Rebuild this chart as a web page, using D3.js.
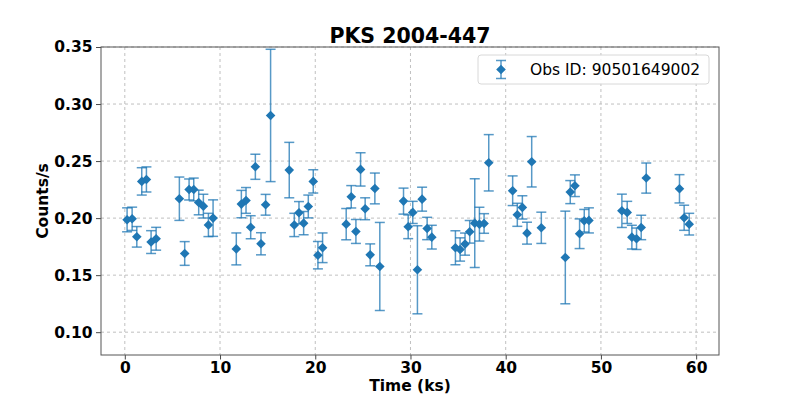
<!DOCTYPE html>
<html>
<head>
<meta charset="utf-8">
<script src="https://cdn.jsdelivr.net/npm/d3@7"></script>
<style>
  html, body { margin: 0; padding: 0; background: #fff; }
  svg { display: block; font-family: "DejaVu Sans", sans-serif; }
</style>
</head>
<body>
<div id="chart"></div>
<script>
// light curve: time bins (ks), count rate and 1-sigma errors
const TIME = [
  0.24, 0.77, 1.26, 1.78, 2.27, 2.76, 3.29, 5.73, 6.29, 6.75, 7.24, 7.76, 8.25, 8.78, 9.27,
  11.71, 12.24, 12.73, 13.22, 13.71, 14.30, 14.79, 15.31, 17.27, 17.80, 18.29, 18.78, 19.27, 19.79,
  20.28, 20.77, 23.25, 23.78, 24.27, 24.76, 25.24, 25.77, 26.26, 26.78, 29.27, 29.76,
  30.24, 30.73, 31.22, 31.75, 32.24, 34.72, 35.21, 35.73, 36.22, 36.75, 37.24, 37.73, 38.22,
  40.73, 41.22, 41.75, 42.24, 42.73, 43.74, 46.26, 46.78, 47.27, 47.76, 48.25, 48.74,
  52.20, 52.76, 53.25, 53.74, 54.23, 54.76, 58.25, 58.74, 59.27
];
const RATE = [
  0.1985, 0.1994, 0.1836, 0.2322, 0.2339, 0.1790, 0.1819, 0.2170, 0.1690, 0.2251, 0.2251, 0.2137, 0.2105, 0.1940, 0.2000,
  0.1730, 0.2123, 0.2155, 0.1920, 0.2450, 0.1775, 0.2117, 0.2900, 0.2421, 0.1940, 0.2047, 0.1956, 0.2102, 0.2322,
  0.1675, 0.1740, 0.1947, 0.2187, 0.1883, 0.2427, 0.2082, 0.1678, 0.2260, 0.1576, 0.2149, 0.1924,
  0.2050, 0.1547, 0.2166, 0.1909, 0.1833, 0.1740, 0.1725, 0.1772, 0.1880, 0.1956, 0.1947, 0.1953, 0.2485,
  0.2240, 0.2029, 0.2094, 0.1868, 0.2494, 0.1915, 0.1655, 0.2228, 0.2284, 0.1863, 0.1977, 0.1980,
  0.2064, 0.2050, 0.1833, 0.1819, 0.1918, 0.2351, 0.2257, 0.2003, 0.1947
];
const ERR = [
  0.0105, 0.0102, 0.0090, 0.0120, 0.0110, 0.0100, 0.0100, 0.0190, 0.0104, 0.0092, 0.0100, 0.0108, 0.0104, 0.0102, 0.0160,
  0.0140, 0.0120, 0.0113, 0.0101, 0.0110, 0.0097, 0.0091, 0.0580, 0.0243, 0.0102, 0.0098, 0.0102, 0.0100, 0.0102,
  0.0120, 0.0130, 0.0137, 0.0098, 0.0105, 0.0146, 0.0096, 0.0096, 0.0135, 0.0386, 0.0114, 0.0104,
  0.0097, 0.0386, 0.0105, 0.0098, 0.0104, 0.0149, 0.0102, 0.0097, 0.0099, 0.0389, 0.0148, 0.0086, 0.0247,
  0.0130, 0.0101, 0.0102, 0.0096, 0.0221, 0.0137, 0.0406, 0.0101, 0.0095, 0.0130, 0.0099, 0.0110,
  0.0146, 0.0097, 0.0104, 0.0094, 0.0107, 0.0132, 0.0124, 0.0110, 0.0095
];
const X_TICKS = [0, 10, 20, 30, 40, 50, 60];
const Y_TICKS = [0.10, 0.15, 0.20, 0.25, 0.30, 0.35];
const TITLE = 'PKS 2004-447';
const LEGEND_LABEL = 'Obs ID: 90501649002';

const width = 797, height = 399;
const margin = { top: 47, right: 78, bottom: 44, left: 101 };
const innerW = width - margin.left - margin.right;
const innerH = height - margin.top - margin.bottom;
const blue = '#1f77b4';

const svg = d3.select('#chart').append('svg')
  .attr('width', width).attr('height', height);

const x = d3.scaleLinear().domain([-2.5, 62.4]).range([0, innerW]);
const y = d3.scaleLinear().domain([0.08, 0.35]).range([innerH, 0]);

const g = svg.append('g').attr('transform', `translate(${margin.left},${margin.top})`);

// grid
g.append('g').selectAll('line').data(X_TICKS).join('line')
  .attr('x1', d => x(d)).attr('x2', d => x(d)).attr('y1', 0).attr('y2', innerH)
  .attr('stroke', '#b0b0b0').attr('stroke-width', 0.8).attr('stroke-dasharray', '3,3');
g.append('g').selectAll('line').data(Y_TICKS).join('line')
  .attr('x1', 0).attr('x2', innerW).attr('y1', d => y(d)).attr('y2', d => y(d))
  .attr('stroke', '#b0b0b0').attr('stroke-width', 0.8).attr('stroke-dasharray', '3,3');

// axes
const xAxis = g.append('g')
  .attr('transform', `translate(0,${innerH})`)
  .call(d3.axisBottom(x).tickValues(X_TICKS).tickSize(4.5).tickPadding(2.5).tickFormat(d3.format('d')));
const yAxis = g.append('g')
  .call(d3.axisLeft(y).tickValues(Y_TICKS).tickSize(5).tickPadding(3.5).tickFormat(d3.format('.2f')));
[xAxis, yAxis].forEach(a => {
  a.select('.domain').remove();
  a.selectAll('.tick line').attr('stroke', '#333').attr('stroke-width', 0.9);
  a.selectAll('text')
    .style('font-size', '15.5px').style('font-weight', 'bold')
    .style('font-family', '"DejaVu Sans", sans-serif').attr('fill', '#000');
});

// frame
g.append('rect').attr('width', innerW).attr('height', innerH)
  .attr('fill', 'none').attr('stroke', '#555').attr('stroke-width', 1);

// error bars
const cap = 5;
const eb = g.append('g').attr('stroke', blue).attr('stroke-opacity', 0.75).attr('stroke-width', 1.5);
TIME.forEach((t, i) => {
  const cx = x(t), lo = y(RATE[i] - ERR[i]), hi = y(RATE[i] + ERR[i]);
  eb.append('line').attr('x1', cx).attr('x2', cx).attr('y1', lo).attr('y2', hi);
  eb.append('line').attr('x1', cx - cap).attr('x2', cx + cap).attr('y1', lo).attr('y2', lo);
  eb.append('line').attr('x1', cx - cap).attr('x2', cx + cap).attr('y1', hi).attr('y2', hi);
});

// diamond markers
const dm = 4.8;
const diamond = `M0,${-dm}L${dm},0L0,${dm}L${-dm},0Z`;
g.append('g').selectAll('path').data(TIME).join('path')
  .attr('d', diamond)
  .attr('transform', (t, i) => `translate(${x(t)},${y(RATE[i])})`)
  .attr('fill', blue);

// title
svg.append('text')
  .attr('x', margin.left + innerW / 2).attr('y', 43)
  .attr('text-anchor', 'middle')
  .style('font-size', '20.5px').style('font-weight', 'bold')
  .text(TITLE);

// axis labels
svg.append('text')
  .attr('x', margin.left + innerW / 2).attr('y', 391)
  .attr('text-anchor', 'middle')
  .style('font-size', '15.5px').style('font-weight', 'bold')
  .text('Time (ks)');
svg.append('text')
  .attr('transform', `translate(48,${margin.top + innerH / 2}) rotate(-90)`)
  .attr('text-anchor', 'middle')
  .style('font-size', '15.5px').style('font-weight', 'bold')
  .text('Counts/s');

// legend
const lg = svg.append('g').attr('transform', 'translate(478,55)');
lg.append('rect').attr('width', 231).attr('height', 29).attr('rx', 3)
  .attr('fill', '#fff').attr('fill-opacity', 0.8)
  .attr('stroke', '#d8d8d8').attr('stroke-width', 1);
const lm = lg.append('g').attr('transform', 'translate(23,14.5)');
lm.append('line').attr('x1', 0).attr('x2', 0).attr('y1', -9).attr('y2', 9)
  .attr('stroke', blue).attr('stroke-opacity', 0.75).attr('stroke-width', 1.5);
[-9, 9].forEach(v => lm.append('line').attr('x1', -cap).attr('x2', cap).attr('y1', v).attr('y2', v)
  .attr('stroke', blue).attr('stroke-opacity', 0.75).attr('stroke-width', 1.5));
lm.append('path').attr('d', diamond).attr('fill', blue);
lg.append('text').attr('x', 52).attr('y', 20)
  .style('font-size', '15.5px').attr('fill', '#000')
  .text(LEGEND_LABEL);
</script>
</body>
</html>
